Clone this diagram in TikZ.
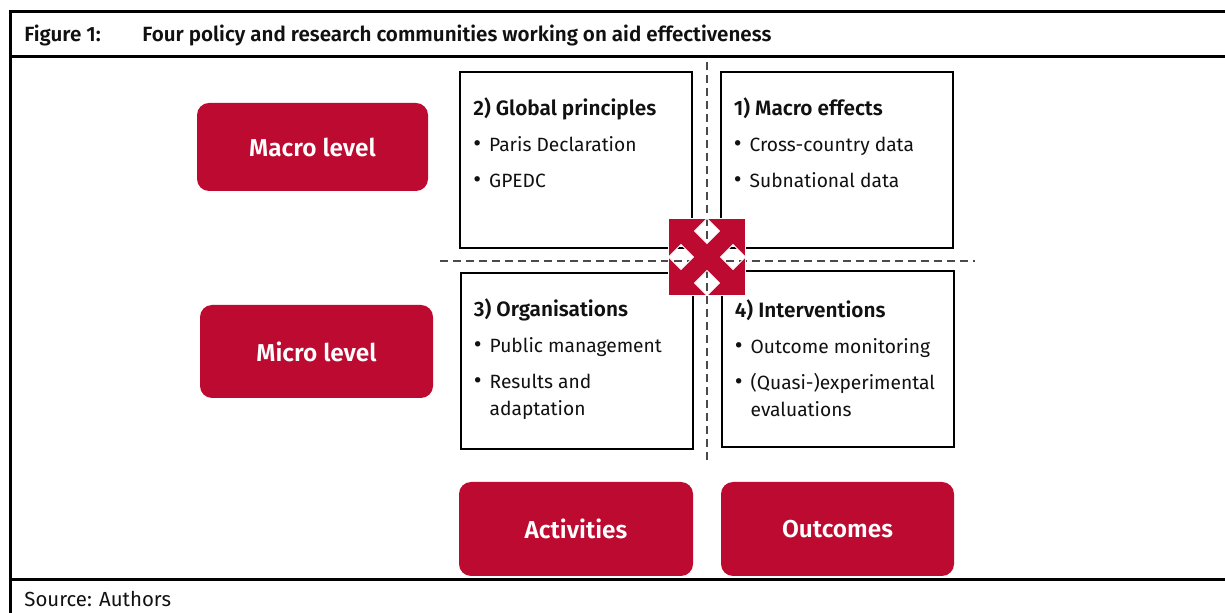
\documentclass[tikz,border=0pt]{standalone}
\usepackage{fontspec}
\setmainfont{Fira Sans}[BoldFont={Fira Sans SemiBold}]
\usepackage{xcolor}
\usetikzlibrary{calc,positioning}
\definecolor{crim}{HTML}{BD0A31}
\definecolor{ink}{HTML}{111111}
\definecolor{dash}{HTML}{4A4A4A}
\tikzset{
  frame/.style={draw=black, line width=1.5pt},
  quad/.style={draw=black, line width=1pt, fill=white, inner sep=0pt, minimum width=116pt, minimum height=88pt},
  tag/.style={fill=crim, rounded corners=6pt, text=white, inner sep=0pt, font=\bfseries\fontsize{12.2}{15}\selectfont},
  sep/.style={draw=dash, line width=0.7pt, dash pattern=on 4pt off 2.5pt},
  lab/.style={anchor=base west, inner sep=0pt, text=ink, font=\fontsize{9.6}{11.5}\selectfont},
  headtext/.style={anchor=base west, inner sep=0pt, text=ink, font=\bfseries\fontsize{10.3}{12}\selectfont},
}
\newcommand{\gapA}{6.5pt}
\newcommand{\gapB}{2pt}
\newcommand{\bul}{{\large\textbullet}}
\newcommand{\hd}[1]{\multicolumn{2}{@{}l@{}}{\bfseries\fontsize{10.4}{12}\selectfont #1}}

\begin{document}
\begin{tikzpicture}[x=0.5pt,y=-0.5pt]
  \useasboundingbox (0,0) rectangle (1225,613);

  \draw[frame] (1225,12) -- (10,12) -- (10,613);
  \draw[frame] (10,57) -- (1225,57);
  \draw[frame] (10,580) -- (1225,580);
  \node[headtext] (fig) at (24,42) {Figure 1:};
  \node[headtext] (title) at (142,42) {Four policy and research communities working on aid effectiveness};
  \node[lab, font=\fontsize{10.2}{12}\selectfont] (src) at (24,607) {Source: Authors};

  \coordinate (hub) at (707,257);
  \draw[sep] (707,62) -- (707,460);
  \draw[sep] (440,261) -- (975,261);

  \node[quad] (q2) at (576,160) {};
  \node[quad] (q1) at (836.5,160) {};
  \node[quad] (q3) at (576.5,361) {};
  \node[quad] (q4) at (837.5,359.5) {};

  \node[lab] (t2) at ($(q2.north west)+(14,45)$) {%
    \begin{tabular}[t]{@{}l@{\hspace{4pt}}l@{}}
      \hd{2) Global principles}\\[\gapA]
      \bul & Paris Declaration\\[\gapA]
      \bul & GPEDC
    \end{tabular}};
  \node[lab] (t1) at ($(q1.north west)+(14,45)$) {%
    \begin{tabular}[t]{@{}l@{\hspace{4pt}}l@{}}
      \hd{1) Macro effects}\\[\gapA]
      \bul & Cross-country data\\[\gapA]
      \bul & Subnational data
    \end{tabular}};
  \node[lab] (t3) at ($(q3.north west)+(14,45)$) {%
    \begin{tabular}[t]{@{}l@{\hspace{4pt}}l@{}}
      \hd{3) Organisations}\\[\gapA]
      \bul & Public management\\[\gapA]
      \bul & Results and\\[\gapB]
      & adaptation
    \end{tabular}};
  \node[lab] (t4) at ($(q4.north west)+(14,47)$) {%
    \begin{tabular}[t]{@{}l@{\hspace{4pt}}l@{}}
      \hd{4) Interventions}\\[\gapA]
      \bul & Outcome monitoring\\[\gapA]
      \bul & (Quasi-)experimental\\[\gapB]
      & evaluations
    \end{tabular}};

  \node[tag, minimum width=115.5pt, minimum height=44pt] (macro) at (312.5,147) {Macro level};
  \node[tag, minimum width=116.5pt, minimum height=46.5pt] (micro) at (316.5,351.5) {Micro level};
  \node[tag, minimum width=117pt, minimum height=47pt] (act) at (576,529) {Activities};
  \node[tag, minimum width=116.5pt, minimum height=47pt] (out) at (837.5,529) {Outcomes};

  \filldraw[fill=crim, draw=white, line width=0.4pt, even odd rule]
    ($(hub)+(-38.5,-38.5)$) rectangle ($(hub)+(38.5,38.5)$)
    \foreach \a in {0,90,180,270}{
      ($(hub)+(\a:26)+(12.5,0)$) -- ++(-12.5,12.5) -- ++(-12.5,-12.5) -- ++(12.5,-12.5) -- cycle
    };
\end{tikzpicture}
\end{document}
